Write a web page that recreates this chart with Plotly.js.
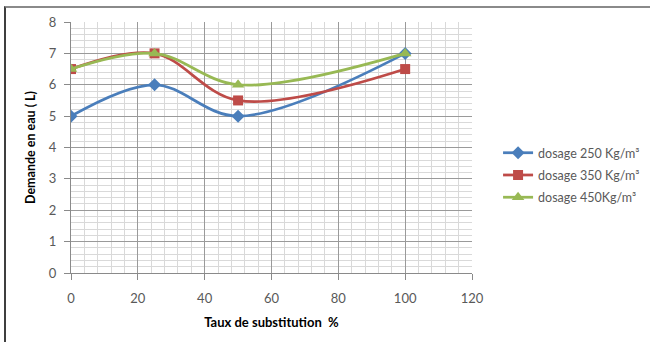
<!DOCTYPE html>
<html>
<head>
<meta charset="utf-8">
<script src="https://cdn.plot.ly/plotly-3.0.1.min.js"></script>
<style>
  html, body { margin: 0; padding: 0; background: #fff; }
  #wrap { position: relative; width: 650px; height: 342px; }
  #chart { position: absolute; left: 0; top: 0; width: 650px; height: 342px; }
  #frame { position: absolute; left: 4px; top: 6px; width: 646px; height: 336px;
           border-left: 2px solid #3f3f3f; border-top: 2px solid #8a8a8a;
           box-sizing: border-box; pointer-events: none; }
</style>
</head>
<body>
<div id="wrap">
  <div id="chart"></div>
  <div id="frame"></div>
</div>
<script>
// Substitution rate (%) and water demand (L) for three cement dosages
const taux = [0, 25, 50, 100];
const dosage250 = [5, 6, 5, 7];
const dosage350 = [6.5, 7, 5.5, 6.5];
const dosage450 = [6.5, 7, 6, 7];
const seriesNames = ['dosage 250 Kg/m³', 'dosage 350 Kg/m³', 'dosage 450Kg/m³'];

const font = 'Lato, "Open Sans", "DejaVu Sans", sans-serif';

function serie(y, name, color, symbol, size, group) {
  return {
    x: taux, y: y, name: name, type: 'scatter', mode: 'lines+markers',
    legendgroup: group,
    line: { color: color, width: 2.75, shape: 'spline', smoothing: 1 },
    marker: { color: color, symbol: symbol, size: size }
  };
}

const data = [
  serie(dosage250, seriesNames[0], '#4A7EBB', 'diamond', 10, 'a'),
  serie(dosage350, seriesNames[1], '#BE4B48', 'square', 10, 'b'),
  serie(dosage450, seriesNames[2], '#98B954', 'triangle-up', 11, 'c')
];

const layout = {
  width: 650, height: 342,
  margin: { l: 71, r: 178, t: 22, b: 69, autoexpand: false },
  paper_bgcolor: '#ffffff', plot_bgcolor: '#ffffff',
  font: { family: font, size: 13, color: '#595959' },
  showlegend: true,
  legend: {
    x: 1.065, y: 0.39, xanchor: 'left', yanchor: 'middle',
    font: { family: font, size: 12.5, color: '#595959' },
    traceorder: 'grouped', tracegroupgap: 3,
    bgcolor: 'rgba(0,0,0,0)'
  },
  xaxis: {
    range: [0, 120], dtick: 20, tick0: 0,
    showgrid: true, gridcolor: '#9a9a9a', gridwidth: 1,
    minor: { dtick: 4, showgrid: true, gridcolor: '#d9d9d9', gridwidth: 1 },
    showline: true, linecolor: '#8a8a8a', linewidth: 1,
    ticks: 'outside', ticklen: 6, tickcolor: '#8a8a8a',
    ticklabelstandoff: 7,
    zeroline: false, mirror: false,
    tickfont: { family: font, size: 13, color: '#595959' },
    title: { text: 'Taux de substitution  %', standoff: 13,
             font: { family: font, size: 13, color: '#000000', weight: 'bold' } }
  },
  yaxis: {
    range: [0, 8], dtick: 1, tick0: 0,
    showgrid: true, gridcolor: '#9a9a9a', gridwidth: 1,
    minor: { dtick: 0.2, showgrid: true, gridcolor: '#d9d9d9', gridwidth: 1 },
    showline: true, linecolor: '#8a8a8a', linewidth: 1,
    ticks: 'outside', ticklen: 6, tickcolor: '#8a8a8a',
    ticklabelstandoff: 5,
    zeroline: false,
    tickfont: { family: font, size: 13, color: '#595959' },
    title: { text: 'Demande en eau ( L)', standoff: 10,
             font: { family: font, size: 12.5, color: '#000000', weight: 'bold' } }
  }
};

Plotly.newPlot('chart', data, layout, { staticPlot: true, displayModeBar: false });
</script>
</body>
</html>
